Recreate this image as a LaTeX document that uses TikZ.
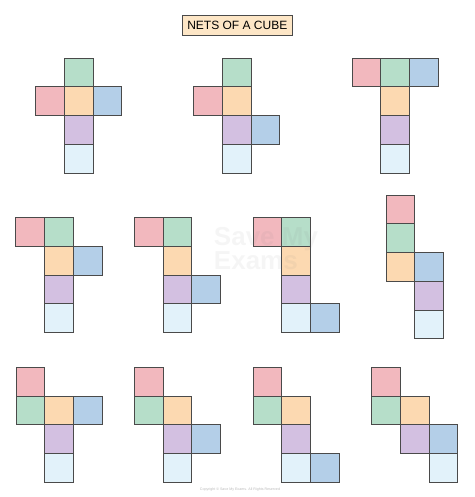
\documentclass[tikz,border=0pt]{standalone}
\usepackage{fontspec}
\setmainfont{Liberation Sans}
\usetikzlibrary{positioning}
\definecolor{edge}{HTML}{4A4A4A}
\definecolor{cred}{HTML}{F2B8BE}
\definecolor{cgreen}{HTML}{B6DEC9}
\definecolor{cpeach}{HTML}{FCD9B1}
\definecolor{cblue}{HTML}{B4CFE8}
\definecolor{cpurple}{HTML}{D3C0E1}
\definecolor{clight}{HTML}{E2F2FA}
\definecolor{titlefill}{HTML}{FDE6C6}

\begin{document}
\begin{tikzpicture}[x=1pt,y=-1pt,
        sq/.style={minimum size=28.7pt,outer sep=0pt,inner sep=0pt,draw=edge,line width=0.9pt,rectangle,node distance=0pt}]
   \useasboundingbox (0,0) rectangle (474,497);
   \node[draw=edge,fill=titlefill,line width=0.9pt,minimum width=110pt,minimum height=20pt,font=\fontsize{12}{12}\selectfont] (title) at (237.3,25.3) {NETS OF A CUBE};

   % row 1
   \node[sq,fill=cgreen] (g1) at (78.8,72.5) {};
   \node[sq,fill=cpeach] (o1) [below=of g1] {};
   \node[sq,fill=cred] (r1) [left=of o1] {};
   \node[sq,fill=cblue] (b1) [right=of o1] {};
   \node[sq,fill=cpurple] (p1) [below=of o1] {};
   \node[sq,fill=clight] (l1) [below=of p1] {};

   \node[sq,fill=cgreen] (g2) at (236.6,72.5) {};
   \node[sq,fill=cpeach] (o2) [below=of g2] {};
   \node[sq,fill=cred] (r2) [left=of o2] {};
   \node[sq,fill=cpurple] (p2) [below=of o2] {};
   \node[sq,fill=cblue] (b2) [right=of p2] {};
   \node[sq,fill=clight] (l2) [below=of p2] {};

   \node[sq,fill=cred] (r3) at (366.3,72.5) {};
   \node[sq,fill=cgreen] (g3) [right=of r3] {};
   \node[sq,fill=cblue] (b3) [right=of g3] {};
   \node[sq,fill=cpeach] (o3) [below=of g3] {};
   \node[sq,fill=cpurple] (p3) [below=of o3] {};
   \node[sq,fill=clight] (l3) [below=of p3] {};

   % row 2
   \node[sq,fill=cred] (r4) at (30.2,232) {};
   \node[sq,fill=cgreen] (g4) [right=of r4] {};
   \node[sq,fill=cpeach] (o4) [below=of g4] {};
   \node[sq,fill=cblue] (b4) [right=of o4] {};
   \node[sq,fill=cpurple] (p4) [below=of o4] {};
   \node[sq,fill=clight] (l4) [below=of p4] {};

   \node[sq,fill=cred] (r5) at (148.8,232) {};
   \node[sq,fill=cgreen] (g5) [right=of r5] {};
   \node[sq,fill=cpeach] (o5) [below=of g5] {};
   \node[sq,fill=cpurple] (p5) [below=of o5] {};
   \node[sq,fill=cblue] (b5) [right=of p5] {};
   \node[sq,fill=clight] (l5) [below=of p5] {};

   \node[sq,fill=cred] (r6) at (267.5,232) {};
   \node[sq,fill=cgreen] (g6) [right=of r6] {};
   \node[sq,fill=cpeach] (o6) [below=of g6] {};
   \node[sq,fill=cpurple] (p6) [below=of o6] {};
   \node[sq,fill=clight] (l6) [below=of p6] {};
   \node[sq,fill=cblue] (b6) [right=of l6] {};

   \node[sq,fill=cred] (r7) at (400.3,209.5) {};
   \node[sq,fill=cgreen] (g7) [below=of r7] {};
   \node[sq,fill=cpeach] (o7) [below=of g7] {};
   \node[sq,fill=cblue] (b7) [right=of o7] {};
   \node[sq,fill=cpurple] (p7) [below=of b7] {};
   \node[sq,fill=clight] (l7) [below=of p7] {};

   % row 3
   \node[sq,fill=cred] (r8) at (30.3,381.7) {};
   \node[sq,fill=cgreen] (g8) [below=of r8] {};
   \node[sq,fill=cpeach] (o8) [right=of g8] {};
   \node[sq,fill=cblue] (b8) [right=of o8] {};
   \node[sq,fill=cpurple] (p8) [below=of o8] {};
   \node[sq,fill=clight] (l8) [below=of p8] {};

   \node[sq,fill=cred] (r9) at (148.8,381.7) {};
   \node[sq,fill=cgreen] (g9) [below=of r9] {};
   \node[sq,fill=cpeach] (o9) [right=of g9] {};
   \node[sq,fill=cpurple] (p9) [below=of o9] {};
   \node[sq,fill=cblue] (b9) [right=of p9] {};
   \node[sq,fill=clight] (l9) [below=of p9] {};

   \node[sq,fill=cred] (r10) at (267.5,381.7) {};
   \node[sq,fill=cgreen] (g10) [below=of r10] {};
   \node[sq,fill=cpeach] (o10) [right=of g10] {};
   \node[sq,fill=cpurple] (p10) [below=of o10] {};
   \node[sq,fill=clight] (l10) [below=of p10] {};
   \node[sq,fill=cblue] (b10) [right=of l10] {};

   \node[sq,fill=cred] (r11) at (386,381.7) {};
   \node[sq,fill=cgreen] (g11) [below=of r11] {};
   \node[sq,fill=cpeach] (o11) [right=of g11] {};
   \node[sq,fill=cpurple] (p11) [below=of o11] {};
   \node[sq,fill=cblue] (b11) [right=of p11] {};
   \node[sq,fill=clight] (l11) [below=of b11] {};

   % watermark and footer
   \node[text=gray,text opacity=0.08,font=\fontsize{26}{24}\selectfont\bfseries,align=left] (wm) at (266,249) {Save My\\Exams};
   \node[text=gray!55,font=\fontsize{3.6}{4}\selectfont] (copy) at (240,489.5) {Copyright \textcopyright{} Save My Exams. All Rights Reserved};
\end{tikzpicture}
\end{document}
